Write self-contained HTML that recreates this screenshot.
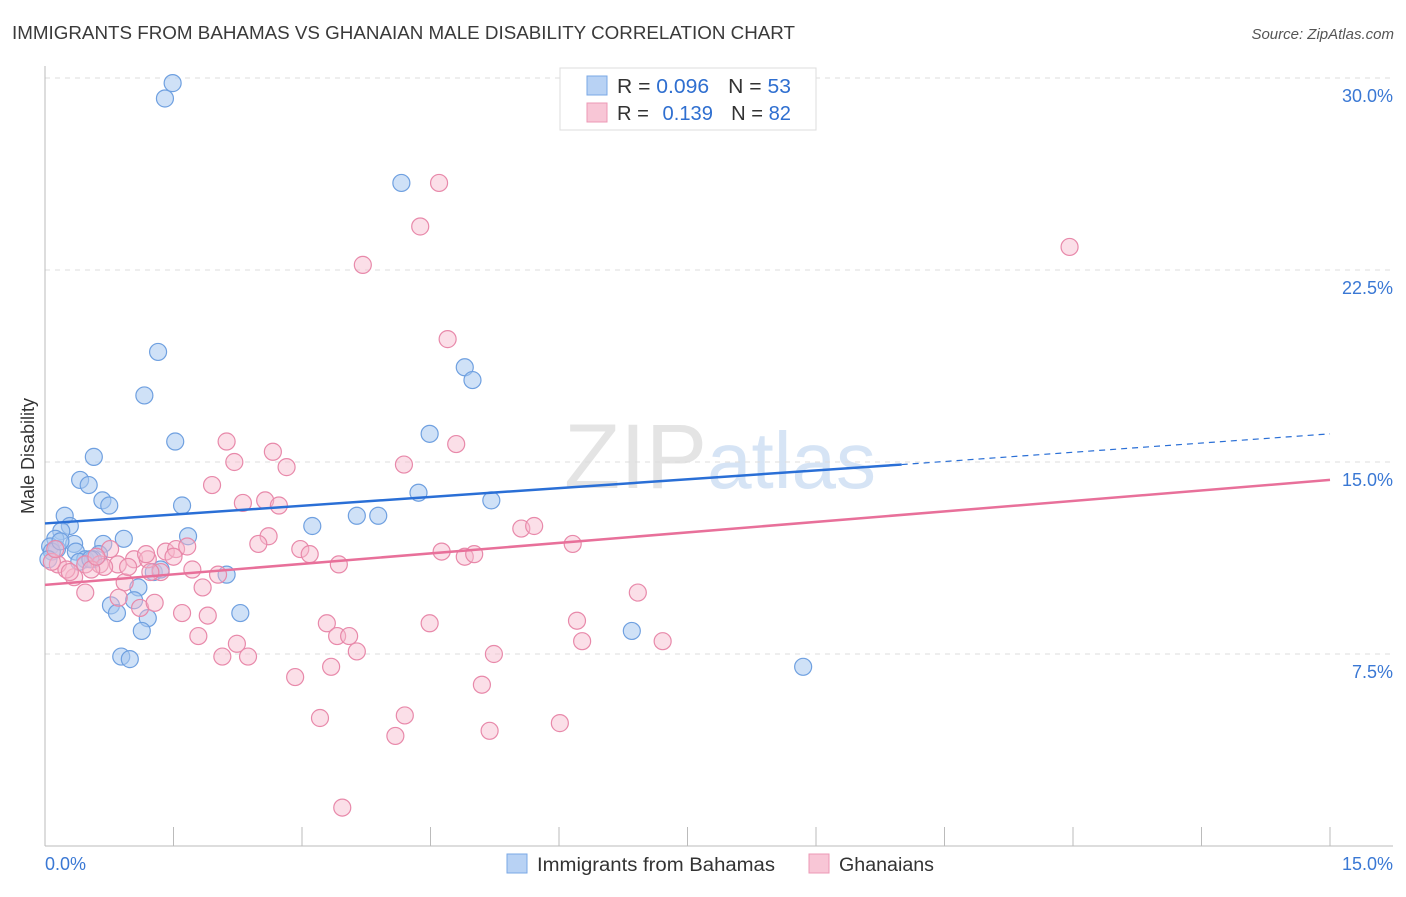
<!DOCTYPE html>
<html><head><meta charset="utf-8">
<style>
body{margin:0;background:#fff;font-family:"Liberation Sans",sans-serif;}
svg text{font-family:"Liberation Sans",sans-serif;}
</style></head>
<body>
<svg id="chart" width="1406" height="892" xmlns="http://www.w3.org/2000/svg">
<text x="12" y="39" font-size="18" fill="#3a3a3a" textLength="783" lengthAdjust="spacingAndGlyphs">IMMIGRANTS FROM BAHAMAS VS GHANAIAN MALE DISABILITY CORRELATION CHART</text>
<text x="1394" y="39" font-size="15" fill="#555" text-anchor="end" font-style="italic">Source: ZipAtlas.com</text>
<text x="34" y="456" font-size="18" fill="#333" text-anchor="middle" transform="rotate(-90 34 456)">Male Disability</text>
<text x="720" y="488" font-size="92" fill="#e4e4e4" text-anchor="middle" font-family="Liberation Serif">ZIP<tspan fill="#d6e4f5" font-family="Liberation Sans" font-size="80">atlas</tspan></text>
<g id="grid"></g><g id="axes"></g><g id="pts"></g><g id="lines"></g>
<g>
<rect x="560" y="68" width="256" height="62" fill="#fff" stroke="#ddd"/>
<rect x="587" y="76" width="20" height="19" fill="#b8d2f4" stroke="#7aa8e6"/>
<text x="617" y="93" font-size="20" fill="#333" textLength="174" lengthAdjust="spacingAndGlyphs">R = <tspan fill="#2f6fd0">0.096</tspan><tspan dx="18">N = </tspan><tspan fill="#2f6fd0">53</tspan></text>
<rect x="587" y="103" width="20" height="19" fill="#f8c6d6" stroke="#ec98b6"/>
<text x="617" y="120" font-size="20" fill="#333" textLength="174" lengthAdjust="spacingAndGlyphs">R = <tspan fill="#2f6fd0" dx="8">0.139</tspan><tspan dx="18">N = </tspan><tspan fill="#2f6fd0">82</tspan></text>
</g>
<g>
<rect x="507" y="854" width="20" height="19" fill="#b8d2f4" stroke="#7aa8e6"/>
<text x="537" y="871" font-size="19" fill="#333" textLength="238" lengthAdjust="spacingAndGlyphs">Immigrants from Bahamas</text>
<rect x="809" y="854" width="20" height="19" fill="#f8c6d6" stroke="#ec98b6"/>
<text x="839" y="871" font-size="19" fill="#333" textLength="95" lengthAdjust="spacingAndGlyphs">Ghanaians</text>
</g>
</svg>
<script>
const yTicks=[7.5,15,22.5,30];
const yTickLabels=["7.5%","15.0%","22.5%","30.0%"];
const xTickCount=10;
const bahamasX=[1.49,1.40,4.16,1.32,1.16,4.90,4.99,1.52,4.49,0.57,0.41,0.51,0.67,0.75,1.60,4.36,5.21,0.23,0.29,0.19,3.12,3.64,3.89,1.67,0.92,0.12,0.06,0.34,0.68,0.63,0.36,0.14,0.08,0.47,0.56,0.40,1.27,1.35,2.12,1.09,0.77,1.04,0.84,1.20,2.28,1.13,6.85,0.89,0.99,8.85,0.04,0.18,0.53];
const bahamasY=[29.8,29.2,25.9,19.3,17.6,18.7,18.2,15.8,16.1,15.2,14.3,14.1,13.5,13.3,13.3,13.8,13.5,12.9,12.5,12.3,12.5,12.9,12.9,12.1,12.0,12.0,11.7,11.8,11.8,11.4,11.5,11.6,11.5,11.2,11.2,11.1,10.7,10.8,10.6,10.1,9.4,9.6,9.1,8.9,9.1,8.4,8.4,7.4,7.3,7.0,11.2,11.9,11.2];
const ghanaX=[4.60,4.38,3.71,11.96,4.70,4.80,2.12,2.21,2.66,2.82,4.19,1.95,2.31,2.57,2.73,2.61,2.49,0.76,1.04,1.20,1.18,1.41,1.53,1.66,1.50,1.72,1.35,0.93,0.64,0.85,0.47,0.69,0.54,0.34,0.15,0.25,0.08,2.98,3.09,3.43,4.63,4.90,5.01,5.56,5.71,6.16,0.47,0.86,1.11,1.28,1.60,1.90,1.84,2.02,6.92,6.21,6.27,7.21,3.29,3.41,3.55,3.64,1.79,2.24,2.07,2.37,2.92,3.34,4.49,5.24,5.10,3.21,4.20,4.09,5.19,6.01,3.47,0.12,0.29,0.60,0.97,1.23];
const ghanaY=[25.9,24.2,22.7,23.4,19.8,15.7,15.8,15.0,15.4,14.8,14.9,14.1,13.4,13.5,13.3,12.1,11.8,11.6,11.2,11.2,11.4,11.5,11.6,11.7,11.3,10.8,10.7,10.3,11.0,11.0,11.0,10.9,10.8,10.5,11.0,10.8,11.1,11.6,11.4,11.0,11.5,11.3,11.4,12.4,12.5,11.8,9.9,9.7,9.3,9.5,9.1,9.0,10.1,10.6,9.9,8.8,8.0,8.0,8.7,8.2,8.2,7.6,8.2,7.9,7.4,7.4,6.6,7.0,8.7,7.5,6.3,5.0,5.1,4.3,4.5,4.8,1.5,11.6,10.7,11.3,10.9,10.7];
const trendBahamas=[[0,12.6],[10,14.9],[15,16.1]];
const trendGhana=[[0,10.2],[15,14.3]];
const NS="http://www.w3.org/2000/svg";
const X=v=>45+v*(1285/15), Y=v=>846-v*25.6;
function mk(t,a,p){const e=document.createElementNS(NS,t);for(const k in a)e.setAttribute(k,a[k]);p.appendChild(e);return e;}
const grid=document.getElementById('grid'),axes=document.getElementById('axes'),pts=document.getElementById('pts'),lines=document.getElementById('lines');
yTicks.forEach((v,i)=>{
 const l=mk('line',{x1:45,x2:1393,y1:Y(v),y2:Y(v),stroke:'#ddd','stroke-dasharray':'5,5'},grid);
 
 
 const t=mk('text',{x:1393,y:Y(v)+24,'font-size':18,fill:'#3a78d4','text-anchor':'end'},axes);
 t.textContent=yTickLabels[i];
 
 
});
const ax=mk('line',{x1:45,x2:1393,y1:846,y2:846,stroke:'#bbb'},axes);


const ay=mk('line',{x1:45,x2:45,y1:66,y2:846,stroke:'#bbb'},axes);


for(let i=1;i<=xTickCount;i++){const tk=mk('line',{x1:X(i*1.5),x2:X(i*1.5),y1:827,y2:846,stroke:'#bbb'},axes);
 
 }
[["0.0%",45,'start'],["15.0%",1393,'end']].forEach(a=>{const t=mk('text',{x:a[1],y:870,'font-size':18,fill:'#3a78d4','text-anchor':a[2]},axes);t.textContent=a[0];
 
 });
bahamasX.forEach((x,i)=>{const c=mk('circle',{cx:X(x),cy:Y(bahamasY[i]),r:8.5,fill:'rgba(168,200,240,0.55)',stroke:'#6fa0e0','stroke-width':1.2},pts);
 
 });
ghanaX.forEach((x,i)=>{const c=mk('circle',{cx:X(x),cy:Y(ghanaY[i]),r:8.5,fill:'rgba(246,184,204,0.45)',stroke:'#e889aa','stroke-width':1.2},pts);
 
 });
const b=trendBahamas;
const l1=mk('line',{x1:X(b[0][0]),y1:Y(b[0][1]),x2:X(b[1][0]),y2:Y(b[1][1]),stroke:'#2a6fd6','stroke-width':2.5},lines);


const l2=mk('line',{x1:X(b[1][0]),y1:Y(b[1][1]),x2:X(b[2][0]),y2:Y(b[2][1]),stroke:'#2a6fd6','stroke-width':1.2,'stroke-dasharray':'6,5'},lines);


const g=trendGhana;
const l3=mk('line',{x1:X(g[0][0]),y1:Y(g[0][1]),x2:X(g[1][0]),y2:Y(g[1][1]),stroke:'#e8709a','stroke-width':2.5},lines);


</script>
</body></html>
